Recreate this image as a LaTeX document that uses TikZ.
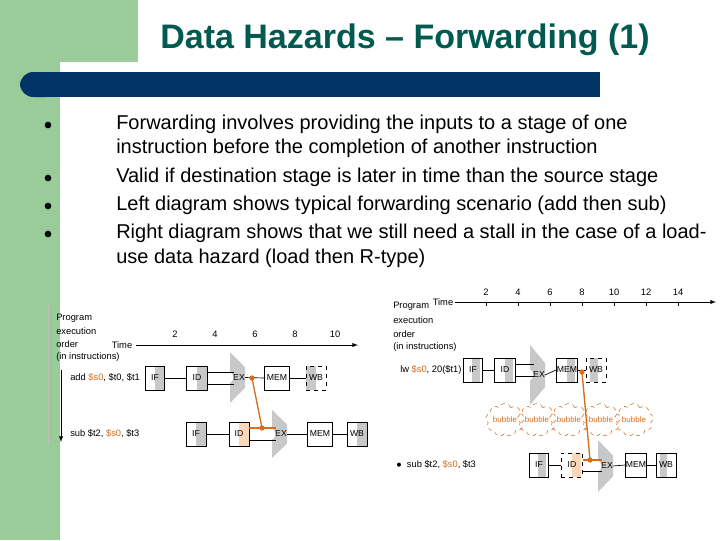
\documentclass[tikz,border=0pt]{standalone}
\usepackage{fontspec}
\setmainfont{Liberation Sans}
\usetikzlibrary{shapes.symbols}
\definecolor{sgreen}{RGB}{153,204,153}
\definecolor{navy}{RGB}{0,51,102}
\definecolor{ttl}{RGB}{0,90,80}
\definecolor{org}{RGB}{214,110,30}
\definecolor{lorg}{RGB}{250,215,185}
\definecolor{gfill}{RGB}{200,200,200}
\tikzset{
 lbl/.style={font=\fontsize{7}{8}\selectfont, inner sep=0pt},
 stagebox/.style={draw, minimum width=15pt, minimum height=18pt, inner sep=0pt, font=\fontsize{6.5}{7}\selectfont},
 wire/.style={line width=0.5pt},
 fwd/.style={org, line width=1pt},
 bub/.style={cloud, cloud puffs=9, draw=org, dashed, aspect=1.3, minimum width=22pt, minimum height=20pt, inner sep=0pt, font=\fontsize{6}{7}\selectfont, text=org},
 btxt/.style={font=\fontsize{15}{17}\selectfont, anchor=west, inner sep=0pt}
}
\newcommand{\alu}[4]{% name, x0, ytop, ybot
 \fill[gfill] (#2,#3) -- (#2+15,{#3+0.3*(#4-#3)}) -- (#2+15,{#4-0.3*(#4-#3)}) -- (#2,#4) -- (#2,{(#3+#4)/2+6}) -- (#2+5,{(#3+#4)/2}) -- (#2,{(#3+#4)/2-6}) -- cycle;
 \node[font=\fontsize{6.5}{7}\selectfont, inner sep=0pt] (#1) at (#2+9,{(#3+#4)/2}) {EX};
 \coordinate (#1w) at (#2+4,{(#3+#4)/2});
 \coordinate (#1e) at (#2+15,{(#3+#4)/2});}
\begin{document}
\begin{tikzpicture}[x=0.75pt,y=-0.75pt]
\useasboundingbox (0,0) rectangle (720,540);
\fill[white] (0,0) rectangle (720,540);
\fill[sgreen] (0,0) rectangle (138,62);
\fill[sgreen] (0,0) rectangle (60,540);
\fill[white, rounded corners=8pt] (60,62) rectangle (720,560);
\fill[white] (70,62) rectangle (720,540);
\fill[navy, rounded corners=10pt] (20,72) rectangle (60,97);
\fill[navy] (35,72) rectangle (600,97);
\node[font=\bfseries\fontsize{25.5}{30}\selectfont, text=ttl, inner sep=0pt] (title) at (405,40) {Data Hazards -- Forwarding (1)};
% bullets
\foreach \yy/\nm in {125/b1,178/b2,206/b3,234/b4}{\fill (48,\yy) circle (2.5pt);}
\node[btxt] (t1) at (116,124) {Forwarding involves providing the inputs to a stage of one};
\node[btxt] (t1b) at (116,148) {instruction before the completion of another instruction};
\node[btxt] (t2) at (116,177) {Valid if destination stage is later in time than the source stage};
\node[btxt] (t3) at (116,205) {Left diagram shows typical forwarding scenario (add then sub)};
\node[btxt] (t4) at (116,233) {Right diagram shows that we still need a stall in the case of a load-};
\node[btxt] (t4b) at (116,258) {use data hazard (load then R-type)};
% ===== left diagram =====
\draw[gray!50] (48,305) -- (48,445);
\foreach \yy/\tx in {318/Program,331/execution,344/order,357/(in instructions)}{\node[lbl, anchor=west] at (56,\yy) {\tx};}
\node[lbl] (ltime) at (122,345) {Time};
\coordinate (lax) at (358,345);
\draw[wire,-latex] (ltime.east)++(3pt,0) -- (lax);
\foreach \t in {2,4,6,8,10}{\node[lbl] at (135+20*\t,334) {\t};}
\coordinate (lvt) at (61,370); \coordinate (lvb) at (61,442);
\draw[wire,-latex] (lvt) -- (lvb);
\node[lbl, anchor=west] (lr1) at (70,378) {add \textcolor{org}{\$s0}, \$t0, \$t1};
\node[lbl, anchor=west] (lr2) at (70,434) {sub \$t2, \textcolor{org}{\$s0}, \$t3};
% row1
\fill[gfill] (155,366) rectangle (165,390);
\node[stagebox, minimum width=14pt] (lif1) at (155,378) {IF};
\fill[gfill] (197,366) rectangle (208,390);
\node[stagebox, minimum width=16pt] (lid1) at (197,378) {ID};
\alu{lex1}{230}{352}{403}
\node[stagebox, minimum width=19pt] (lmem1) at (277,378) {MEM};
\fill[gfill] (306,366) rectangle (316,390);
\node[stagebox, minimum width=15pt, dashed] (lwb1) at (316,378) {WB};
\draw[wire] (lif1.east) -- (lid1.west);
\draw[wire] (lid1.east|-0,372) -- (lex1w|-0,372);
\draw[wire] (lid1.east|-0,384) -- (lex1w|-0,384);
\draw[wire] (lex1e) -- (lmem1.west);
\draw[wire] (lmem1.east) -- (lwb1.west);
% row2
\fill[gfill] (196,422) rectangle (206,446);
\node[stagebox, minimum width=15pt] (lif2) at (196,434) {IF};
\fill[lorg] (239,422) rectangle (249,446);
\node[stagebox, minimum width=15pt] (lid2) at (239,434) {ID};
\alu{lex2}{272}{410}{458}
\node[stagebox, minimum width=19pt] (lmem2) at (320,434) {MEM};
\fill[gfill] (357,422) rectangle (367,446);
\node[stagebox, minimum width=15pt] (lwb2) at (357,434) {WB};
\draw[wire] (lif2.east) -- (lid2.west);
\draw[wire] (lid2.east|-0,440) -- (lex2w|-0,440);
\draw[wire] (lex2e) -- (lmem2.west);
\draw[wire] (lmem2.east) -- (lwb2.west);
\coordinate (lf1) at (252,378); \coordinate (lf2) at (262,428);
\draw[fwd] (lf1) -- (lf2);
\draw[fwd] (lid2.east|-0,428) -- (lex2w|-0,428);
\fill[org] (lf1) circle (2pt); \fill[org] (lf2) circle (2pt);
% ===== right diagram =====
\node[lbl] (rtime) at (443,302) {Time};
\coordinate (rax) at (716,302);
\draw[wire,-latex] (455,302) -- (rax);
\foreach \t in {2,4,6,8,10,12,14}{\node[lbl] at (454+16*\t,292) {\t}; \draw[wire] (454+16*\t,302) -- (454+16*\t,306);}
\foreach \yy/\tx in {306/Program,320/execution,334/order,347/(in instructions)}{\node[lbl, anchor=west] at (393,\yy) {\tx};}
\node[lbl, anchor=west] (rr1) at (400,370) {lw \textcolor{org}{\$s0}, 20(\$t1)};
\node[lbl, anchor=west] (rr2) at (396,465) {$\bullet$\ \ sub \$t2, \textcolor{org}{\$s0}, \$t3};
% row1
\fill[gfill] (472,358) rectangle (480,382);
\node[stagebox, minimum width=14pt] (rif1) at (473,370) {IF};
\fill[gfill] (505,358) rectangle (513,382);
\node[stagebox, minimum width=16pt] (rid1) at (505,370) {ID};
\alu{rex1}{530}{345}{405}
\fill[gfill] (567,358) rectangle (575,382);
\node[stagebox, minimum width=16pt] (rmem1) at (567,370) {MEM};
\fill[gfill] (590,358) rectangle (598,382);
\node[stagebox, minimum width=15pt, dashed] (rwb1) at (596,370) {WB};
\draw[wire] (rif1.east) -- (rid1.west);
\draw[wire] (rid1.east|-0,364) -- (rex1w|-0,364);
\draw[wire] (rid1.east|-0,376) -- (rex1w|-0,376);
\draw[wire] (rex1e) -- (rmem1.west);
\draw[wire] (rmem1.east) -- (rwb1.west);
% bubbles
\foreach \bx/\bn in {505/ba,537/bb,569/bc,601/bd,634/be}{\node[bub] (\bn) at (\bx,420) {bubble};}
% row2
\fill[gfill] (538,453) rectangle (546,477);
\node[stagebox, minimum width=14pt] (rif2) at (539,465) {IF};
\fill[lorg] (572,453) rectangle (581,477);
\node[stagebox, minimum width=16pt, dashed] (rid2) at (572,465) {ID};
\alu{rex2}{598}{440}{492}
\node[stagebox, minimum width=16pt] (rmem2) at (636,465) {MEM};
\fill[gfill] (660,453) rectangle (667,477);
\node[stagebox, minimum width=15pt] (rwb2) at (666,465) {WB};
\draw[wire] (rif2.east) -- (rid2.west);
\draw[wire] (rid2.east|-0,471) -- (rex2w|-0,471);
\draw[wire] (rex2e) -- (rmem2.west);
\draw[wire] (rmem2.east) -- (rwb2.west);
\coordinate (rf1) at (582,372); \coordinate (rf2) at (590,460);
\draw[fwd] (rf1) -- (rf2);
\draw[fwd] (rid2.east|-0,460) -- (rex2w|-0,460);
\fill[org] (rf1) circle (2pt); \fill[org] (rf2) circle (2pt);
\end{tikzpicture}
\end{document}
